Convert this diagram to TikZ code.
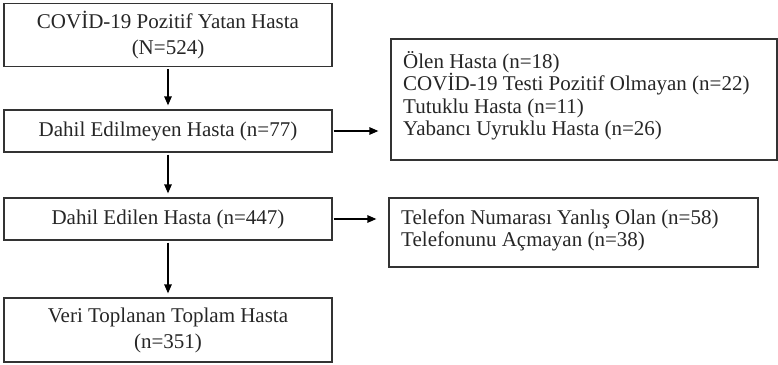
\documentclass[tikz,border=0pt]{standalone}
\usepackage{fontspec}
\setmainfont{Liberation Serif}
\usetikzlibrary{arrows.meta}
\begin{document}
\begin{tikzpicture}[x=1pt,y=-1pt,
  box/.style={draw=black!80, line width=1.3pt, rectangle, inner sep=0pt,
    font=\fontsize{21}{26}\selectfont, align=center, text=black!85},
  listtext/.style={inner sep=0pt, anchor=north west, align=left,
    font=\fontsize{21}{22.4}\selectfont, text=black!85},
  flow/.style={line width=1.3pt, draw=black, -{Triangle[length=9pt,width=7.5pt]}}
]
\useasboundingbox (0,0) rectangle (778,364);

% main column
\node[box, minimum width=328pt, minimum height=63pt] (start) at (168,35)
  {COVİD-19 Pozitif Yatan Hasta\\(N=524)};
\node[box, minimum width=328pt, minimum height=42pt] (excl) at (168,131)
  {Dahil Edilmeyen Hasta (n=77)};
\node[box, minimum width=328pt, minimum height=42pt] (incl) at (168,219)
  {Dahil Edilen Hasta (n=447)};
\node[box, minimum width=328pt, minimum height=64pt] (final) at (168,330)
  {Veri Toplanan Toplam Hasta\\(n=351)};

% side boxes with their lists
\node[box, minimum width=386pt, minimum height=121pt] (exclbox) at (584,99.5) {};
\node[listtext] (excllist) at (403,51)
  {Ölen Hasta (n=18)\\COVİD-19 Testi Pozitif Olmayan (n=22)\\Tutuklu Hasta (n=11)\\Yabancı Uyruklu Hasta (n=26)};
\node[box, minimum width=369pt, minimum height=69pt] (lostbox) at (573.5,232.5) {};
\node[listtext] (lostlist) at (401,209.5)
  {Telefon Numarası Yanlış Olan (n=58)\\Telefonunu Açmayan (n=38)};

% connectors
\draw[flow, shorten <=2pt, shorten >=4pt] (start) -- (excl);
\draw[flow, shorten <=2pt, shorten >=4pt] (excl) -- (incl);
\draw[flow, shorten <=2pt, shorten >=4pt] (incl) -- (final);
\draw[flow, shorten <=1pt, shorten >=12pt] (excl.east) -- (excl.east -| exclbox.west);
\draw[flow, shorten <=1pt, shorten >=12pt] (incl.east) -- (incl.east -| lostbox.west);
\end{tikzpicture}
\end{document}
